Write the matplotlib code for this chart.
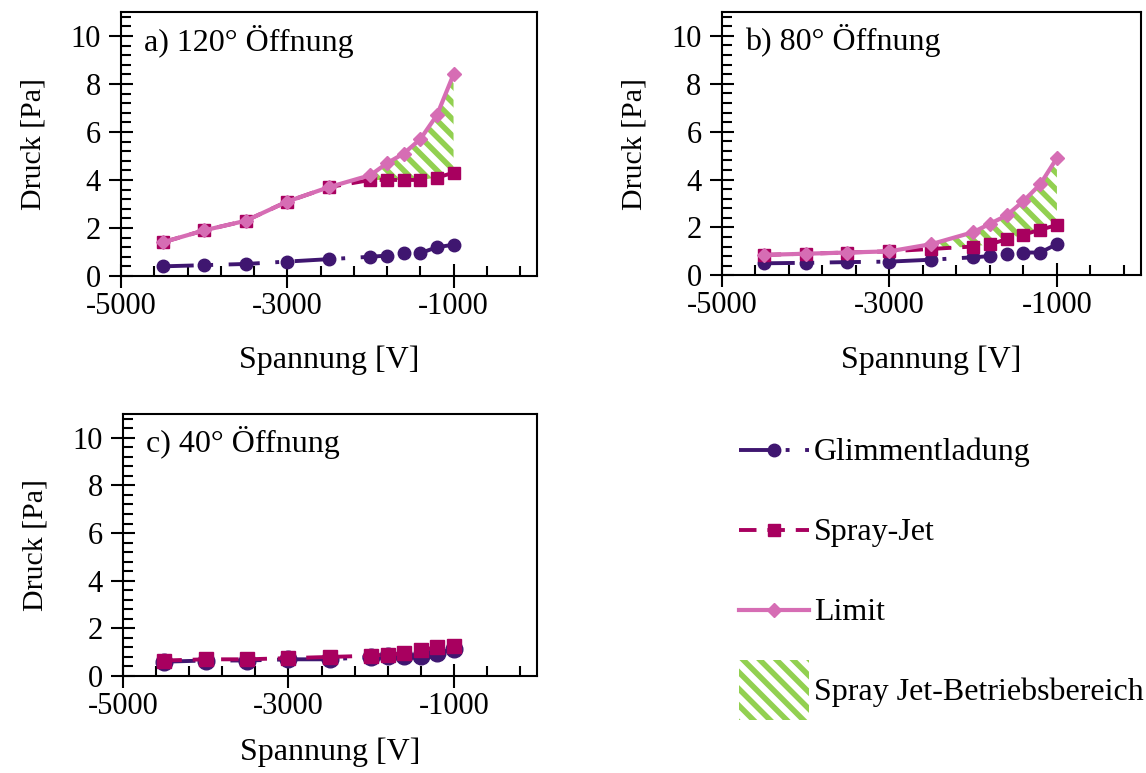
import numpy as np
import matplotlib
matplotlib.use("Agg")
import matplotlib.pyplot as plt
from matplotlib.lines import Line2D
from matplotlib.patches import Patch
from matplotlib.legend_handler import HandlerLine2D
from matplotlib.ticker import FixedLocator

plt.rcParams["font.family"] = ["Liberation Serif", "DejaVu Serif"]
plt.rcParams["axes.unicode_minus"] = False
plt.rcParams["hatch.linewidth"] = 4.0

# Spannung in V
spannung = [-4500, -4000, -3500, -3000, -2500, -2000, -1800, -1600, -1400, -1200, -1000]

# a) 120° Öffnung
glimm_120 = [0.40, 0.45, 0.50, 0.60, 0.70, 0.80, 0.85, 0.95, 0.95, 1.20, 1.30]
spray_120 = [1.40, 1.90, 2.30, 3.10, 3.70, 4.00, 4.00, 4.00, 4.00, 4.10, 4.30]
limit_120 = [1.40, 1.90, 2.30, 3.10, 3.70, 4.20, 4.70, 5.10, 5.70, 6.70, 8.40]

# b) 80° Öffnung
glimm_80 = [0.50, 0.52, 0.55, 0.57, 0.65, 0.75, 0.80, 0.90, 0.95, 0.95, 1.30]
spray_80 = [0.85, 0.90, 0.95, 1.00, 1.10, 1.20, 1.30, 1.50, 1.70, 1.90, 2.10]
limit_80 = [0.85, 0.90, 0.95, 1.00, 1.30, 1.80, 2.15, 2.50, 3.10, 3.80, 4.90]

# c) 40° Öffnung
glimm_40 = [0.60, 0.65, 0.65, 0.70, 0.70, 0.80, 0.85, 0.85, 0.85, 0.95, 1.15]
spray_40 = [0.65, 0.70, 0.70, 0.75, 0.80, 0.85, 0.90, 0.95, 1.10, 1.20, 1.25]

# start of the spray-jet operating range per panel
betrieb_start_120 = -2000
betrieb_start_80 = -2500

titles = ["a) 120° Öffnung", "b) 80° Öffnung", "c) 40° Öffnung"]
x_ticks = [-5000, -3000, -1000]
y_ticks = [0, 2, 4, 6, 8, 10]

c_glimm = "#3f1670"
c_spray = "#a8005f"
c_limit = "#d66db4"
c_green = "#92d050"

fs_tick = 22
fs = 23
fs_ylab = 21.5
dash_glimm = (0, (8.0, 4.0, 1.0, 4.0))
dash_spray = (0, (4.5, 2.8))

fig = plt.figure(figsize=(11.46, 7.73), dpi=100)
ax_a = fig.add_axes([0.1056, 0.643, 0.3627, 0.3415])
ax_b = fig.add_axes([0.6298, 0.6439, 0.3656, 0.3406])
ax_c = fig.add_axes([0.1073, 0.1255, 0.3610, 0.3390])


def style_axes(ax, title, xlabelpad=18):
    ax.set_xlim(-5000, 0)
    ax.set_ylim(0, 11)
    ax.xaxis.set_major_locator(FixedLocator(x_ticks))
    ax.xaxis.set_minor_locator(FixedLocator(np.arange(-5000, 0, 400)))
    ax.yaxis.set_major_locator(FixedLocator(y_ticks))
    ax.yaxis.set_minor_locator(FixedLocator(np.arange(0, 11, 0.4)))
    ax.tick_params(which="major", direction="inout", length=17, width=1.5,
                   labelsize=fs_tick, pad=3)
    ax.tick_params(which="minor", direction="in", length=7, width=1.5)
    ax.tick_params(axis="y", which="major", pad=6)
    for sp in ax.spines.values():
        sp.set_linewidth(1.5)
    ax.set_xlabel("Spannung [V]", fontsize=fs, labelpad=xlabelpad)
    ax.set_ylabel("Druck [Pa]", fontsize=fs_ylab, labelpad=17)
    ax.text(0.055, 0.89, title, transform=ax.transAxes, fontsize=fs,
            ha="left", va="center")


def draw_panel(ax, glimm, spray, limit=None, start=None, big=False):
    ms_c = 12 if big else 9
    ms_s = 10 if big else 8
    ax.plot(spannung, glimm, color=c_glimm, lw=2.8, linestyle=dash_glimm,
            marker="o", ms=ms_c, zorder=3)
    ax.plot(spannung, spray, color=c_spray, lw=2.8, linestyle=dash_spray,
            marker="s", ms=ms_s, zorder=4)
    if limit is not None:
        x = np.array(spannung)
        ax.fill_between(x, spray, limit, where=x >= start, facecolor="none",
                        edgecolor=c_green, hatch="\\\\", linewidth=0, zorder=2)
        ax.plot(spannung, limit, color=c_limit, lw=3.0, linestyle="-",
                marker="D", ms=7, zorder=5)


class CenteredLineHandler(HandlerLine2D):
    """Line handle lowered so it sits on the text's middle."""

    def create_artists(self, legend, orig_handle, xdescent, ydescent,
                       width, height, fontsize, trans):
        arts = super().create_artists(legend, orig_handle, xdescent, ydescent,
                                      width, height, fontsize, trans)
        for a in arts:
            a.set_ydata(np.asarray(a.get_ydata()) - 7.0)
        return arts


style_axes(ax_a, titles[0])
draw_panel(ax_a, glimm_120, spray_120, limit_120, betrieb_start_120)
style_axes(ax_b, titles[1])
draw_panel(ax_b, glimm_80, spray_80, limit_80, betrieb_start_80)
style_axes(ax_c, titles[2], xlabelpad=12)
draw_panel(ax_c, glimm_40, spray_40, big=True)

handles = [
    Line2D([], [], color=c_glimm, lw=2.8, linestyle=dash_glimm, marker="o", ms=9),
    Line2D([], [], color=c_spray, lw=2.8, linestyle=dash_spray, marker="s", ms=8),
    Line2D([], [], color=c_limit, lw=3.0, linestyle="-", marker="D", ms=7),
    Patch(facecolor="none", edgecolor=c_green, hatch="\\\\", linewidth=0),
]
labels = ["Glimmentladung", "Spray-Jet", "Limit", "Spray Jet-Betriebsbereich"]
fig.legend(handles, labels, loc="upper left", bbox_to_anchor=(0.6445, 0.4567),
           frameon=False, fontsize=fs, handlelength=2.19, handleheight=2.51,
           handletextpad=0.16, labelspacing=0.63, borderpad=0, borderaxespad=0,
           numpoints=1, handler_map={Line2D: CenteredLineHandler()})

fig.savefig("out.png", dpi=100)
